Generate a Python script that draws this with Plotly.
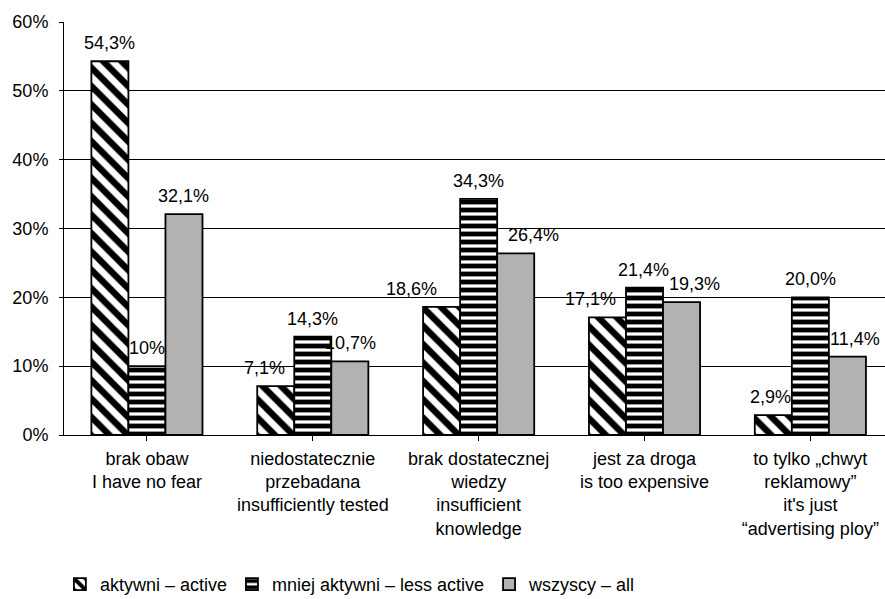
import plotly.graph_objects as go

categories = [
    "brak obaw<br>I have no fear",
    "niedostatecznie<br>przebadana<br>insufficiently tested",
    "brak dostatecznej<br>wiedzy<br>insufficient<br>knowledge",
    "jest za droga<br>is too expensive",
    "to tylko „chwyt<br>reklamowy”<br>it's just<br>“advertising ploy”",
]
series_names = ["aktywni – active", "mniej aktywni – less active", "wszyscy – all"]
active = [54.3, 7.1, 18.6, 17.1, 2.9]
less_active = [10.0, 14.3, 34.3, 21.4, 20.0]
all_resp = [32.1, 10.7, 26.4, 19.3, 11.4]
active_labels = ["54,3%", "7,1%", "18,6%", "17,1%", "2,9%"]
less_labels = ["10%", "14,3%", "34,3%", "21,4%", "20,0%"]
all_labels = ["32,1%", "10,7%", "26,4%", "19,3%", "11,4%"]
y_ticks = [0, 10, 20, 30, 40, 50, 60]
y_tick_text = ["0%", "10%", "20%", "30%", "40%", "50%", "60%"]

FONT = "Arial, Liberation Sans, sans-serif"
bargap = 0.33
bar_w = (1 - bargap) / 3

# label horizontal nudges in px (style only)
shifts = [
    [0, -11, -30, -17, -3],
    [0, 0, 0, -1, 0],
    [0, 1, 18, 13, 8],
]

idx = list(range(len(categories)))
fig = go.Figure()
fig.add_trace(go.Bar(
    x=idx, y=active, name=series_names[0],
    marker=dict(color="white", line=dict(color="black", width=1.8),
                pattern=dict(shape="\\", fgcolor="black", bgcolor="white", fgopacity=1,
                             size=13, solidity=0.5)),
))
fig.add_trace(go.Bar(
    x=idx, y=less_active, name=series_names[1],
    marker=dict(color="white", line=dict(color="black", width=1.8),
                pattern=dict(shape="-", fgcolor="black", bgcolor="white", fgopacity=1,
                             size=8, solidity=0.6)),
))
fig.add_trace(go.Bar(
    x=idx, y=all_resp, name=series_names[2],
    marker=dict(color="#b2b2b2", line=dict(color="black", width=1.8)),
))

annotations = []
for j, (vals, labs) in enumerate([(active, active_labels), (less_active, less_labels), (all_resp, all_labels)]):
    for i, (v, t) in enumerate(zip(vals, labs)):
        annotations.append(dict(
            x=i + (j - 1) * bar_w, y=v, xref="x", yref="y", text=t,
            showarrow=False, yanchor="middle", yshift=18, xshift=shifts[j][i],
            font=dict(family=FONT, size=18, color="black"),
        ))

fig.update_layout(
    width=885, height=599,
    margin=dict(l=64, r=0, t=22, b=164, autoexpand=False),
    plot_bgcolor="white", paper_bgcolor="white",
    barmode="group", bargap=bargap, bargroupgap=0,
    font=dict(family=FONT, size=18, color="black"),
    annotations=annotations,
    legend=dict(orientation="h", x=-0.005, xanchor="left", y=-0.362, yanchor="middle",
                font=dict(family=FONT, size=18, color="black"), traceorder="normal"),
    xaxis=dict(
        tickmode="array", tickvals=idx, ticktext=categories,
        range=[-0.5, 4.45], showline=True, linecolor="black", linewidth=1,
        ticks="outside", ticklen=5, tickcolor="black", tickson="boundaries",
        ticklabelstandoff=2, automargin=False,
        showgrid=False, tickfont=dict(family=FONT, size=18, color="black"),
    ),
    yaxis=dict(
        range=[0, 60], tickvals=y_ticks, ticktext=y_tick_text,
        showgrid=True, gridcolor="black", gridwidth=1,
        showline=True, linecolor="black", linewidth=1,
        ticks="outside", ticklen=4, tickcolor="black", ticklabelstandoff=7,
        automargin=False,
        zeroline=False, tickfont=dict(family=FONT, size=18, color="black"),
    ),
)

fig.write_html("out.html")
